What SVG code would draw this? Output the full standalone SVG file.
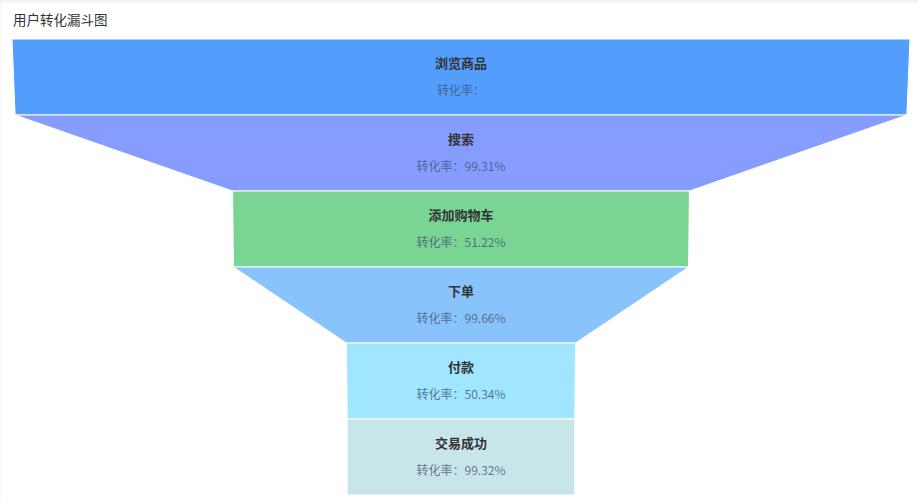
<svg xmlns="http://www.w3.org/2000/svg" width="918" height="500" viewBox="0 0 918 500">
<style>
.seg{stroke:#ffffff;stroke-width:1;stroke-linejoin:round}
.name{font-family:"Noto Sans CJK SC","Noto Sans",sans-serif;font-size:13px;font-weight:bold;fill:#333333;text-anchor:middle}
.rate{font-family:"Noto Sans CJK SC","Noto Sans",sans-serif;font-size:12px;fill:#3c506e;fill-opacity:0.75;text-anchor:middle}
.title{font-family:"Noto Sans CJK SC","Noto Sans",sans-serif;font-size:13.5px;fill:#333333}
</style>
<rect x="0" y="0" width="918" height="500" fill="#f5f5f5"/>
<rect x="1" y="3" width="917" height="497" fill="#ffffff"/>
<text class="title" x="13" y="25">用户转化漏斗图</text>
<g id="node-browse">
<polygon class="seg" fill="#539efd" points="12,39 910,39 906.9,115 15.1,115"/>
<text class="name" x="461" y="67.5">浏览商品</text>
<text class="rate" x="461" y="94.5">转化率：</text>
</g>
<g id="node-search">
<polygon class="seg" fill="#869cff" points="15.1,115 906.9,115 689.4,191 232.6,191"/>
<text class="name" x="461" y="143.5">搜索</text>
<text class="rate" x="461" y="170.5">转化率：99.31%</text>
</g>
<g id="node-cart">
<polygon class="seg" fill="#7ad594" points="232.6,191 689.4,191 688.6,267 233.4,267"/>
<text class="name" x="461" y="219.5">添加购物车</text>
<text class="rate" x="461" y="246.5">转化率：51.22%</text>
</g>
<g id="node-order">
<polygon class="seg" fill="#88c4fb" points="233.4,267 688.6,267 575.6,343 346.4,343"/>
<text class="name" x="461" y="295.5">下单</text>
<text class="rate" x="461" y="322.5">转化率：99.66%</text>
</g>
<g id="node-pay">
<polygon class="seg" fill="#9fe6fe" points="346.4,343 575.6,343 574.8,419 347.2,419"/>
<text class="name" x="461" y="371.5">付款</text>
<text class="rate" x="461" y="398.5">转化率：50.34%</text>
</g>
<g id="node-success">
<polygon class="seg" fill="#c8e5ea" points="347.2,419 574.8,419 574.8,495 347.2,495"/>
<text class="name" x="461" y="447.5">交易成功</text>
<text class="rate" x="461" y="474.5">转化率：99.32%</text>
</g>
<g id="connectors"></g>
</svg>
